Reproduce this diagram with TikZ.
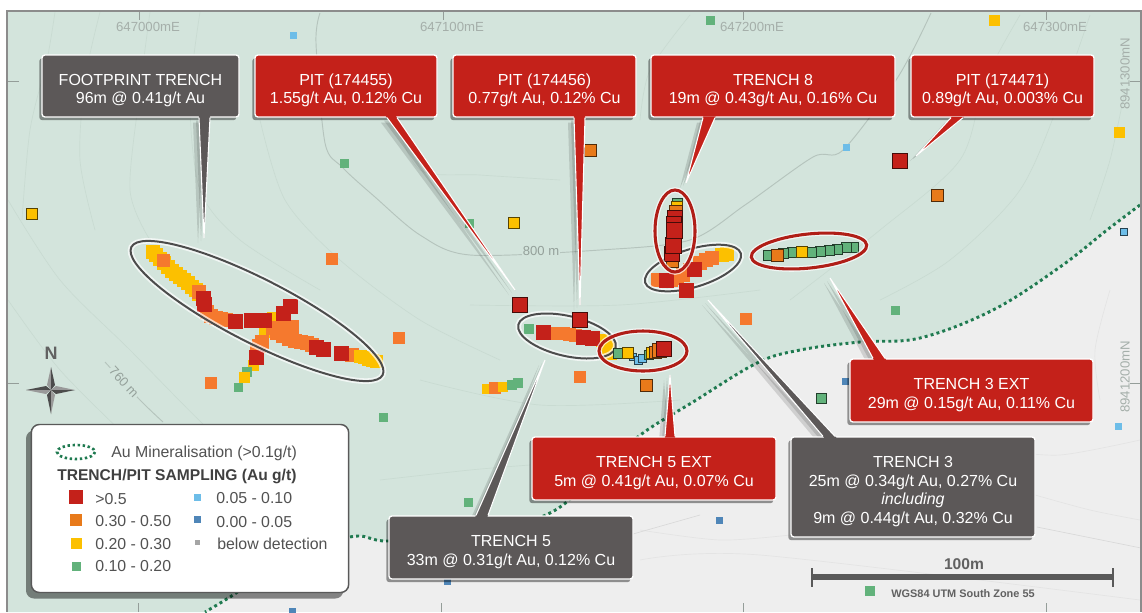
\documentclass[tikz,border=0pt]{standalone}
\usepackage{fontspec}
\setmainfont{Liberation Sans}
\usetikzlibrary{shadows,calc}
\pgfdeclarelayer{shad}
\pgfdeclarelayer{top}
\pgfsetlayers{main,shad,top}
\definecolor{mapgreen}{HTML}{D3E4DC}
\definecolor{mapgrey}{HTML}{EEEEEE}
\definecolor{cred}{HTML}{C4211A}
\definecolor{cgrey}{HTML}{5C5858}
\definecolor{sred}{HTML}{C4211A}
\definecolor{sorange}{HTML}{F5792E}
\definecolor{sorangeb}{HTML}{E87A1A}
\definecolor{syellow}{HTML}{FCC000}
\definecolor{sgreen}{HTML}{62B27B}
\definecolor{sblue}{HTML}{6DBDE8}
\definecolor{sdblue}{HTML}{4F86B8}
\definecolor{sgrey}{HTML}{A5A5A5}
\definecolor{gridtext}{HTML}{A5AFAA}
\definecolor{mingreen}{HTML}{1F7A50}
\definecolor{faintg}{HTML}{C9DBD2}
\definecolor{faintw}{HTML}{E4E4E4}
\newcommand{\sq}[4]{\fill[#4] ({#1-#3/2},{#2-#3/2}) rectangle ({#1+#3/2},{#2+#3/2});}
\newcommand{\sqo}[4]{\filldraw[#4,draw=#4!35!black,line width=0.65pt] ({#1-#3/2},{#2-#3/2}) rectangle ({#1+#3/2},{#2+#3/2});}
\newcommand{\ups}{\rule{0pt}{15pt}}
\newcommand{\tailshape}[7]{% box, colour, anchor, x1, x2, tipx, tipy
  \coordinate (#1-tip) at (#6,#7);
  \coordinate (#1-a) at (#4,0 |- #1.#3);
  \coordinate (#1-b) at (#5,0 |- #1.#3);
  \begin{pgfonlayer}{shad}
    \fill[black,opacity=.13] ($(#1-a)+(-3,3)$) -- ($(#1-tip)+(-3,3)$) -- ($(#1-b)+(-3,3)$) -- cycle;
    \fill[black,opacity=.13] ($(#1-a)+(-6,5)$) -- ($(#1-tip)+(-6,5)$) -- ($(#1-b)+(-6,5)$) -- cycle;
  \end{pgfonlayer}
  \begin{pgfonlayer}{top}
    \fill[#2] ($(#1-a)!-0.02!(#1-tip)$) -- (#1-tip) -- ($(#1-b)!-0.02!(#1-tip)$) -- cycle;
    \draw[white,line width=0.8pt] (#1-a) -- (#1-tip) -- (#1-b);
  \end{pgfonlayer}
}
\tikzset{
  calloutbox/.style={draw=white,line width=1pt,rounded corners=2.2pt,text=white,align=center,
    font=\fontsize{12}{13.9}\selectfont,inner sep=0pt,
    drop shadow={shadow xshift=-2pt,shadow yshift=-2.4pt,opacity=.4,fill=black}},
  redbox/.style={calloutbox,fill=cred},
  greybox/.style={calloutbox,fill=cgrey},
  gridlabel/.style={text=gridtext,font=\fontsize{9.9}{11}\selectfont,inner sep=0pt},
  gridtick/.style={draw=gridtext!90!black,line width=0.6pt},
  legtext/.style={anchor=west,inner sep=0pt,text=black!68,font=\fontsize{11.9}{13}\selectfont},
  ringgrey/.style={draw=black!70,line width=1.5pt},
  ringred/.style={draw=cred!90!black,line width=2.3pt},
  ringhalo/.style={draw=white,opacity=.7,line width=4.2pt},
  contour/.style={draw=faintg,line width=0.5pt},
  contourg/.style={draw=faintw,line width=0.5pt},
  contourmain/.style={draw=black!14!mapgreen,line width=0.7pt},
}
\begin{document}
\begin{tikzpicture}[x=0.75pt,y=-0.75pt]
\useasboundingbox (0,0) rectangle (1142,612);
\fill[white] (0,0) rectangle (1142,612);
% map background
\fill[mapgrey] (7,11) rectangle (1141,612);
\fill[mapgreen] (7,11) -- (1141,11) -- (1141,205)
  -- plot[smooth,tension=.6] coordinates {(1140,205) (1107,230) (1060,267) (993,310) (920,338) (860,342) (800,350) (757,363) (693,402) (643,433) (600,470) (550,513) (470,535) (388,541) (350,537) (280,565) (230,597) (205,612)}
  -- (7,612) -- cycle;
% faint contours
\foreach \c in {
 {(55,12) (47,60) (30,130) (22,220)},
 {(100,12) (85,80) (80,160) (95,230)},
 {(150,12) (140,90) (130,190) (150,240)},
 {(200,12) (190,100) (200,190) (240,240) (320,290)},
 {(260,120) (285,200) (340,260) (420,320) (500,360)},
 {(395,120) (420,170) (480,175) (560,180)},
 {(8,200) (60,280) (130,350) (220,440) (300,500)},
 {(8,300) (60,370) (130,440)},
 {(640,120) (650,70) (690,15)},
 {(1020,15) (985,80) (960,160) (880,230) (790,300)},
 {(1090,15) (1060,100) (1020,190) (950,260) (880,300)},
 {(1125,90) (1110,160) (1090,220)},
 {(420,380) (540,405) (680,400)},
 {(380,480) (470,470) (530,465)},
 {(470,305) (620,305) (760,290)}}
{\draw[contour] plot[smooth] coordinates \c;}
\foreach \c in {
 {(1035,495) (1090,510) (1140,520)},
 {(1000,450) (1060,455) (1140,440)},
 {(640,530) (720,540) (790,535)},
 {(640,560) (760,555) (1140,600)},
 {(1100,400) (1095,350) (1110,290)}}
{\draw[contourg] plot[smooth] coordinates \c;}
\draw[contourg,draw=black!15] (1037,527) -- (1141,548);
\draw[contourg,draw=black!15] (633,534) -- (700,515);
\draw[contourmain] plot[smooth] coordinates {(320,13) (316,43) (325,143) (342,167) (375,197) (420,235) (470,255) (600,250) (690,240) (745,205) (813,157) (843,150) (898,77) (931,13)};
\draw[contourmain] plot[smooth] coordinates {(105,362) (140,400) (163,422)};
\node[text=black!30!mapgreen,font=\fontsize{9.8}{11}\selectfont,inner sep=1pt,fill=mapgreen] (label800) at (541,251) {800 m};
\node[text=black!30!mapgreen,font=\fontsize{9.8}{11}\selectfont,inner sep=1pt,rotate=-47,fill=mapgreen] (label760) at (124,382) {760 m};
% grid
\foreach \x in {139,443,743,1046} {\draw[gridtick] (\x,11) -- (\x,20);}
\foreach \x in {138,441,743,1046} {\draw[gridtick] (\x,603) -- (\x,612);}
\foreach \y in {81,383} {\draw[gridtick] (8,\y) -- (19,\y); \draw[gridtick] (1130,\y) -- (1141,\y);}
\node[gridlabel] (e0) at (148,27) {647000mE};
\node[gridlabel] (e1) at (452,27) {647100mE};
\node[gridlabel] (e2) at (752,27) {647200mE};
\node[gridlabel] (e3) at (1055,27) {647300mE};
\node[gridlabel,rotate=90] (n0) at (1125,74) {8941300mN};
\node[gridlabel,rotate=90] (n1) at (1125,377) {8941200mN};
% mineralisation boundary
\draw[mingreen,line width=2.2pt,dash pattern=on 2.2pt off 2.4pt] plot[smooth,tension=.6] coordinates {(1140,205) (1107,230) (1060,267) (993,310) (920,338) (860,342) (800,350) (757,363) (693,402) (643,433) (600,470) (550,513) (470,535) (388,541) (350,537) (280,565) (230,597) (205,612)};
% scattered samples
\sq{293}{35}{7}{sblue}\sq{344}{163}{9}{sgreen}\sq{710.5}{20}{9}{sgreen}\sq{994}{20}{11}{syellow}\sq{1119}{132}{11}{syellow}\sq{846}{147}{7}{sblue}
\sq{719}{520}{7}{sdblue}\sq{845}{381}{7}{sdblue}\sq{1118}{426}{7}{sblue}\sq{895}{310}{9}{sgreen}
\sq{746}{319}{12}{sorange}\sq{580}{377}{12}{sorange}\sq{332}{259}{12}{sorange}\sq{399}{338}{12}{sorange}\sq{211}{383}{12}{sorange}
\sq{383}{417}{9}{sgreen}\sq{468}{502}{9}{sgreen}\sq{447}{581}{7}{sdblue}\sq{292}{611}{7}{sdblue}\sq{870}{591}{10}{sgreen}\sq{469}{223}{9}{sgreen}
\sqo{1124}{232}{7}{sblue}\sqo{821}{398}{10}{sgreen}\sqo{646}{385}{12}{sorangeb}\sqo{514}{223}{11}{syellow}\sqo{32}{214}{11}{syellow}
\sqo{590}{150}{12}{sorangeb}\sqo{937}{195}{12}{sorangeb}\sqo{900}{161}{15}{sred}\sqo{520}{305}{15}{sred}
% footprint trench samples
\foreach \x/\y in {153/252,156/255,160/259,164/263,168/267,172/271,176/274,180/277,184/280,188/283,192/287,196/290,199/294}{\sq{\x}{\y}{14}{syellow}}
\sq{163}{260}{13}{sorange}
\foreach \x/\y in {199/292,207/312,211/316,216/318,221/319,226/320}{\sq{\x}{\y}{14}{sorange}}
\sq{273}{318}{12}{syellow}\sq{265}{332}{12}{syellow}
\foreach \x/\y in {273/328,280/328,287/328,292/327,277/333,283/336,289/339,295/341,301/342,307/343,312/345,262/342,259/346,257/350,352/355}{\sq{\x}{\y}{14}{sorange}}
\foreach \x/\y in {360/356,364/357,368/359,372/360,376/361}{\sq{\x}{\y}{13}{syellow}}
\sq{253}{365}{11}{syellow}\sq{247}{372}{10}{sgreen}\sq{238}{387}{9}{sgreen}\sq{244}{377}{11}{syellow}
\foreach \x/\y in {203/298,204/304,235/321,251/320,259/320,264/320,290/306,283/313,316/347,323/349,341/353,256/357}{\sq{\x}{\y}{15}{sred}}
% trench 5 samples
\sq{529}{329}{10}{sgreen}
\foreach \x/\y in {551/333,557/333,563/333,569/334,575/335}{\sq{\x}{\y}{13}{sorange}}
\foreach \x/\y in {602/340,606/344,608/348,610/353}{\sq{\x}{\y}{13}{syellow}}
\foreach \x/\y in {543/332,583/337,592/338}{\sq{\x}{\y}{15}{sred}}
\sq{487}{389}{10}{syellow}\sq{495}{388}{12}{sorange}\sq{503}{387}{10}{syellow}\sq{512}{385}{10}{sgreen}\sq{518}{383}{10}{sgreen}
% trench 3 samples
\foreach \x/\y in {727/254,722/255}{\sq{\x}{\y}{14}{syellow}}
\foreach \x/\y in {712/258,706/260,700/263,690/270,683/275,677/278,671/280,658/280}{\sq{\x}{\y}{14}{sorange}}
\foreach \x/\y in {694/269,666/280}{\sq{\x}{\y}{15}{sred}}
% rings (grey ones under later stacks)
\draw[ringhalo,rotate around={-27:(257,311)}] (257,311) ellipse [x radius=141,y radius=32];
\draw[ringgrey,rotate around={-27:(257,311)}] (257,311) ellipse [x radius=141,y radius=32];
\draw[ringhalo,rotate around={-13:(567,336)}] (567,336) ellipse [x radius=50,y radius=20];
\draw[ringgrey,rotate around={-13:(567,336)}] (567,336) ellipse [x radius=50,y radius=20];
\draw[ringhalo,rotate around={17:(693,268)}] (693,268) ellipse [x radius=50,y radius=19];
\draw[ringgrey,rotate around={17:(693,268)}] (693,268) ellipse [x radius=50,y radius=19];
\sqo{580}{320}{15}{sred}
\sq{686}{290}{15}{sred}
% trench 8 stack
\sqo{677}{203}{10}{sgreen}\sqo{677}{207}{11}{syellow}\sqo{676}{212}{13}{sorangeb}\sqo{672}{261}{12}{sorangeb}
\sqo{672}{254}{15}{sred}\sqo{673}{245}{16}{sred}\sqo{675}{218}{15}{sred}\sqo{674}{224}{15}{sred}\sqo{674}{230}{16}{sred}
% trench 5 ext stack
\sqo{633}{357}{7}{sblue}\sqo{638}{360}{8}{sblue}\sqo{642}{358}{8}{sblue}\sqo{618}{353}{10}{sgreen}\sqo{628}{353}{11}{syellow}
\sqo{649}{355}{9}{sgreen}\sqo{652}{353}{11}{syellow}\sqo{655}{352}{12}{sorangeb}\sqo{659}{350}{14}{sorangeb}\sqo{664}{349}{15}{sred}
% trench 3 ext
\foreach \x/\y in {853/247,846/247,837/249,829/250,820/251,811/252,792/252,783/253,768/255}{\sqo{\x}{\y}{10}{sgreen}}
\sqo{777}{255}{12}{sorangeb}\sqo{802}{252}{11}{syellow}
\draw[ringhalo] (643,351) ellipse [x radius=44,y radius=20];
\draw[ringred] (643,351) ellipse [x radius=44,y radius=20];
\draw[ringhalo] (675,231) ellipse [x radius=20,y radius=41];
\draw[ringred] (675,231) ellipse [x radius=20,y radius=41];
\draw[ringhalo,rotate around={6:(809,251)}] (809,251) ellipse [x radius=58,y radius=17];
\draw[ringred,rotate around={6:(809,251)}] (809,251) ellipse [x radius=58,y radius=17];
% compass
\coordinate (cmp) at (51,390);
\fill[black!40] (cmp) -- (47,385) -- (51,367) -- cycle;
\fill[black!70] (cmp) -- (55,385) -- (51,367) -- cycle;
\fill[black!70] (cmp) -- (47,395) -- (51,414) -- cycle;
\fill[black!40] (cmp) -- (55,395) -- (51,414) -- cycle;
\fill[black!70] (cmp) -- (46,386) -- (26,390) -- cycle;
\fill[black!40] (cmp) -- (46,394) -- (26,390) -- cycle;
\fill[black!40] (cmp) -- (56,386) -- (75,390) -- cycle;
\fill[black!70] (cmp) -- (56,394) -- (75,390) -- cycle;
\node[inner sep=0pt,text=black!62,font=\bfseries\fontsize{13.5}{15}\selectfont] (north) at (51,353) {N};
% legend
\node[draw=black!65,line width=1.1pt,fill=white,rounded corners=6pt,minimum width=238pt,minimum height=126pt,inner sep=0pt,
  drop shadow={shadow xshift=-4pt,shadow yshift=-4.5pt,opacity=.45,fill=black}] (legend) at (190,508.5) {};
\draw[mingreen,line width=2pt,dash pattern=on 1.8pt off 2pt] (76,452) ellipse [x radius=19,y radius=7];
\node[legtext] (l0) at (111,453) {Au Mineralisation (>0.1g/t)};
\node[legtext,text=black!75,font=\bfseries\fontsize{11.7}{13}\selectfont] (l1) at (57,476) {TRENCH/PIT SAMPLING (Au g/t)};
\sq{76}{497}{14}{sred}\sq{76}{520}{12}{sorangeb}\sq{76}{543}{11}{syellow}\sq{76}{566}{9}{sgreen}
\sq{197}{497}{7}{sblue}\sq{197}{519}{7}{sdblue}\sq{197}{542}{5}{sgrey}
\node[legtext] (l2) at (95,499) {>0.5};
\node[legtext] (l3) at (95,521) {0.30 - 0.50};
\node[legtext] (l4) at (95,544) {0.20 - 0.30};
\node[legtext] (l5) at (95,566) {0.10 - 0.20};
\node[legtext] (l6) at (216,498.5) {0.05 - 0.10};
\node[legtext] (l7) at (216,522) {0.00 - 0.05};
\node[legtext] (l8) at (217,544) {below detection};
% scale bar
\coordinate (sb0) at (812,577);
\coordinate (sb1) at (1113,577);
\draw[black!65,line width=4.5pt] (sb0) -- (sb1);
\draw[black!65,line width=1.6pt] (812,568) -- (812,587);
\draw[black!65,line width=1.6pt] (1113,568) -- (1113,587);
\node[inner sep=0pt,text=black!62,font=\bfseries\fontsize{11.7}{13}\selectfont] (sbl) at (964,564) {100m};
\node[inner sep=0pt,text=black!62,font=\bfseries\fontsize{8.2}{10}\selectfont] (wgs) at (963,593.5) {WGS84 UTM South Zone 55};
% callouts
\begin{pgfonlayer}{top}
\node[greybox,minimum width=147.75pt,minimum height=46.5pt] (footprint) at (140.5,86) {\ups FOOTPRINT TRENCH\\96m @ 0.41g/t Au};
\node[redbox,minimum width=136.5pt,minimum height=46.5pt] (pit455) at (346,86) {\ups PIT (174455)\\1.55g/t Au, 0.12\% Cu};
\node[redbox,minimum width=137.25pt,minimum height=46.5pt] (pit456) at (544.5,86) {\ups PIT (174456)\\0.77g/t Au, 0.12\% Cu};
\node[redbox,minimum width=183pt,minimum height=46.5pt] (trench8) at (773,86) {\ups TRENCH 8\\19m @ 0.43g/t Au, 0.16\% Cu};
\node[redbox,minimum width=137.25pt,minimum height=46.5pt] (pit471) at (1002.5,86) {\ups PIT (174471)\\0.89g/t Au, 0.003\% Cu};
\node[redbox,minimum width=182.25pt,minimum height=47.25pt] (t3ext) at (971.5,390.5) {\ups TRENCH 3 EXT\\29m @ 0.15g/t Au, 0.11\% Cu};
\node[greybox,minimum width=183pt,minimum height=75pt] (t3) at (913,487) {\ups TRENCH 3\\25m @ 0.34g/t Au, 0.27\% Cu\\\textit{including}\\9m @ 0.44g/t Au, 0.32\% Cu};
\node[redbox,minimum width=183pt,minimum height=47.25pt] (t5ext) at (654,468.5) {\ups TRENCH 5 EXT\\5m @ 0.41g/t Au, 0.07\% Cu};
\node[greybox,minimum width=183pt,minimum height=47.25pt] (t5) at (511,547.5) {\ups TRENCH 5\\33m @ 0.31g/t Au, 0.12\% Cu};
\end{pgfonlayer}
\tailshape{footprint}{cgrey}{south}{199}{210}{204}{238}
\tailshape{pit455}{cred}{south}{387}{397}{515}{290}
\tailshape{pit456}{cred}{south}{574}{585}{580}{305}
\tailshape{trench8}{cred}{south}{703}{715}{686}{183}
\tailshape{pit471}{cred}{south}{951}{963}{916}{156}
\tailshape{t3ext}{cred}{north}{873}{885}{830}{278}
\tailshape{t3}{cgrey}{north}{823}{835}{708}{300}
\tailshape{t5ext}{cred}{north}{665}{675}{670}{375}
\tailshape{t5}{cgrey}{north}{476}{488}{545}{360}
% frame
\draw[draw=black!45,line width=1.8pt] (7,612) -- (7,11) -- (1141,11) -- (1141,612);
\end{tikzpicture}
\end{document}
